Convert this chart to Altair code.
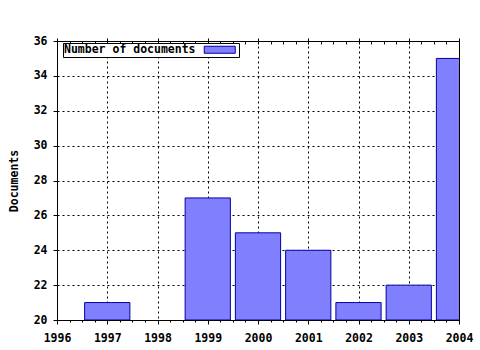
import altair as alt
import pandas as pd

years = [1997, 1999, 2000, 2001, 2002, 2003, 2004]
documents = [21, 27, 25, 24, 21, 22, 35]
series_name = "Number of documents"
major_x = [1996, 1997, 1998, 1999, 2000, 2001, 2002, 2003, 2004]
minor_x = [1996 + i * 0.25 for i in range(33)]
y_ticks = [20, 22, 24, 26, 28, 30, 32, 34, 36]
half_width = 0.45
baseline = 20

df = pd.DataFrame({"year": years, "docs": documents})
df["x0"] = df["year"] - half_width
df["x1"] = df["year"] + half_width
df["base"] = baseline
df["series"] = series_name

FONT = "DejaVu Sans Mono"
FS = 11.5

xscale = alt.Scale(domain=[1996, 2004], nice=False, zero=False)
yscale = alt.Scale(domain=[20, 36], nice=False, zero=False)

base = alt.Chart(df)

bars = base.mark_bar(stroke="#0000a0", strokeWidth=1, clip=True).encode(
    x=alt.X("x0:Q", scale=xscale, axis=alt.Axis(
        values=major_x, format="d", title=None, grid=True, gridColor="black",
        gridDash=[2, 3], gridOpacity=1, tickSize=4, tickColor="black",
        domainColor="black", labelPadding=8, labelFlush=False, orient="bottom")),
    x2="x1:Q",
    y=alt.Y("docs:Q", scale=yscale, axis=alt.Axis(
        values=y_ticks, title="Documents", grid=True, gridColor="black",
        gridDash=[2, 3], gridOpacity=1, tickSize=4, tickColor="black",
        domainColor="black", labelPadding=6, titlePadding=14, labelFlush=False,
        orient="left")),
    y2="base:Q",
    color=alt.Color("series:N", scale=alt.Scale(range=["#8080ff"]), legend=alt.Legend(
        title=series_name, titleOrient="left", labelExpr="''",
        orient="none", legendX=6, legendY=2,
        strokeColor="black", fillColor="white", padding=1,
        symbolType="M-4.43,-1L4.43,-1L4.43,1L-4.43,1Z", symbolSize=49,
        symbolStrokeColor="#0000a0", symbolStrokeWidth=1, symbolFillColor="#8080ff",
        symbolOffset=10, titlePadding=8, labelOffset=0,
        titleFont=FONT, titleFontSize=FS, titleFontWeight="bold", titleColor="black")),
)

minor_bottom = base.mark_point(opacity=0).encode(
    x=alt.X("year:Q", scale=xscale, axis=alt.Axis(
        values=minor_x, labels=False, title=None, grid=False, domain=False,
        tickSize=2, tickColor="black", orient="bottom")),
    y=alt.Y("docs:Q", scale=yscale, axis=None),
)

top_inward = base.mark_point(opacity=0).encode(
    x=alt.X("year:Q", scale=xscale, axis=alt.Axis(
        values=minor_x, labels=False, title=None, grid=False, domain=False,
        tickSize=3, tickColor="black", orient="top", offset=-3)),
    y=alt.Y("docs:Q", scale=yscale, axis=None),
)

top_major = base.mark_point(opacity=0).encode(
    x=alt.X("year:Q", scale=xscale, axis=alt.Axis(
        values=major_x, labels=False, title=None, grid=False, domain=False,
        tickSize=3, tickColor="black", orient="top")),
    y=alt.Y("docs:Q", scale=yscale, axis=None),
)

chart = alt.layer(bars, minor_bottom, top_inward, top_major).resolve_axis(
    x="independent", y="independent"
).properties(
    width=402, height=279,
    autosize=alt.AutoSizeParams(type="none"),
    padding={"left": 57, "top": 41, "right": 21, "bottom": 30},
    background="white",
).configure_view(
    stroke="black", strokeWidth=1
).configure_axis(
    labelFont=FONT, labelFontSize=FS, labelFontWeight="bold", labelColor="black",
    titleFont=FONT, titleFontSize=FS, titleFontWeight="bold", titleColor="black",
).configure_legend(
    labelFont=FONT, labelFontSize=FS,
)

chart.save("out.html", embed_options={"renderer": "svg", "actions": False})
